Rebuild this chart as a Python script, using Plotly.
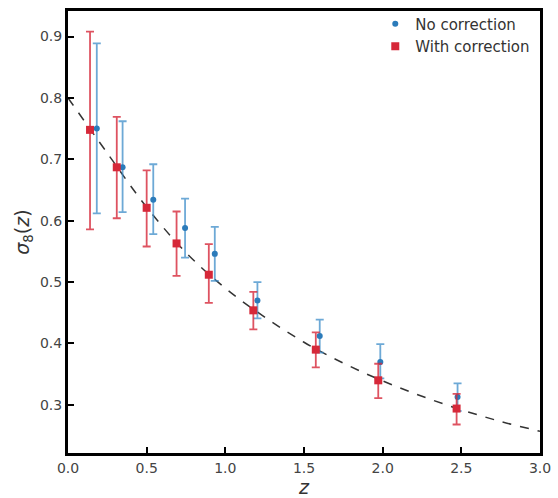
import plotly.graph_objects as go

# Model curve (dashed)
curve_z = [0.0, 0.25, 0.5, 0.75, 1.0, 1.25, 1.5, 1.75, 2.0, 2.25, 2.5, 2.75, 3.0]
curve_s8 = [0.800, 0.710, 0.622, 0.548, 0.490, 0.443, 0.402, 0.368, 0.339, 0.314, 0.292, 0.273, 0.257]

# No correction (blue)
nc_z = [0.183, 0.347, 0.542, 0.744, 0.933, 1.204, 1.600, 1.985, 2.476]
nc_val = [0.750, 0.687, 0.634, 0.588, 0.546, 0.470, 0.412, 0.370, 0.313]
nc_up = [0.889, 0.762, 0.692, 0.636, 0.590, 0.500, 0.439, 0.399, 0.335]
nc_lo = [0.612, 0.614, 0.578, 0.540, 0.502, 0.441, 0.385, 0.343, 0.290]

# With correction (red)
wc_z = [0.140, 0.310, 0.500, 0.690, 0.895, 1.178, 1.575, 1.972, 2.470]
wc_val = [0.748, 0.687, 0.621, 0.563, 0.512, 0.454, 0.390, 0.340, 0.294]
wc_up = [0.908, 0.769, 0.682, 0.615, 0.562, 0.484, 0.418, 0.367, 0.318]
wc_lo = [0.586, 0.604, 0.558, 0.510, 0.466, 0.423, 0.361, 0.311, 0.268]

x_ticks = [0.0, 0.5, 1.0, 1.5, 2.0, 2.5, 3.0]
y_ticks = [0.3, 0.4, 0.5, 0.6, 0.7, 0.8, 0.9]

BLUE = "#2b7bba"
BLUE_ERR = "rgba(60,140,200,0.75)"
RED = "#d62839"
RED_ERR = "rgba(214,40,57,0.8)"

fig = go.Figure()

fig.add_trace(go.Scatter(
    x=curve_z, y=curve_s8, mode="lines", line_shape="spline",
    line=dict(color="#333333", width=1.5, dash="dash"),
    showlegend=False, hoverinfo="skip"))

fig.add_trace(go.Scatter(
    x=nc_z, y=nc_val, mode="markers", name="No correction",
    marker=dict(color=BLUE, size=6, symbol="circle"),
    error_y=dict(type="data", symmetric=False,
                 array=[u - v for u, v in zip(nc_up, nc_val)],
                 arrayminus=[v - l for v, l in zip(nc_val, nc_lo)],
                 color=BLUE_ERR, thickness=1.8, width=4)))

fig.add_trace(go.Scatter(
    x=wc_z, y=wc_val, mode="markers", name="With correction",
    marker=dict(color=RED, size=8, symbol="square"),
    error_y=dict(type="data", symmetric=False,
                 array=[u - v for u, v in zip(wc_up, wc_val)],
                 arrayminus=[v - l for v, l in zip(wc_val, wc_lo)],
                 color=RED_ERR, thickness=1.8, width=4)))

axis_common = dict(
    showline=True, linecolor="black", linewidth=3, mirror=True,
    ticks="inside", ticklen=6, tickwidth=2, tickcolor="black",
    showgrid=False, zeroline=False,
    tickfont=dict(family="DejaVu Sans", size=14, color="#444444"),
)

fig.update_xaxes(range=[0, 3], tickvals=x_ticks,
                 ticktext=[f"{v:.1f}" for v in x_ticks],
                 title=dict(text="<i>z</i>", font=dict(family="DejaVu Sans", size=19, color="#333333"), standoff=2),
                 **axis_common)
fig.update_yaxes(range=[0.2216, 0.9416], tickvals=y_ticks,
                 ticktext=[f"{v:.1f}" for v in y_ticks],
                 title=dict(text="<i>σ</i><sub>8</sub>(<i>z</i>)", font=dict(family="DejaVu Sans", size=19, color="#333333"), standoff=6),
                 **axis_common)

fig.update_layout(
    width=558, height=498,
    margin=dict(l=68, r=14, t=7, b=41),
    plot_bgcolor="white", paper_bgcolor="white",
    legend=dict(x=0.99, y=1.008, xanchor="right", yanchor="top",
                bgcolor="rgba(0,0,0,0)",
                font=dict(family="DejaVu Sans", size=15, color="#333333"),
                tracegroupgap=0, itemwidth=30),
)

fig.write_html("out.html")
